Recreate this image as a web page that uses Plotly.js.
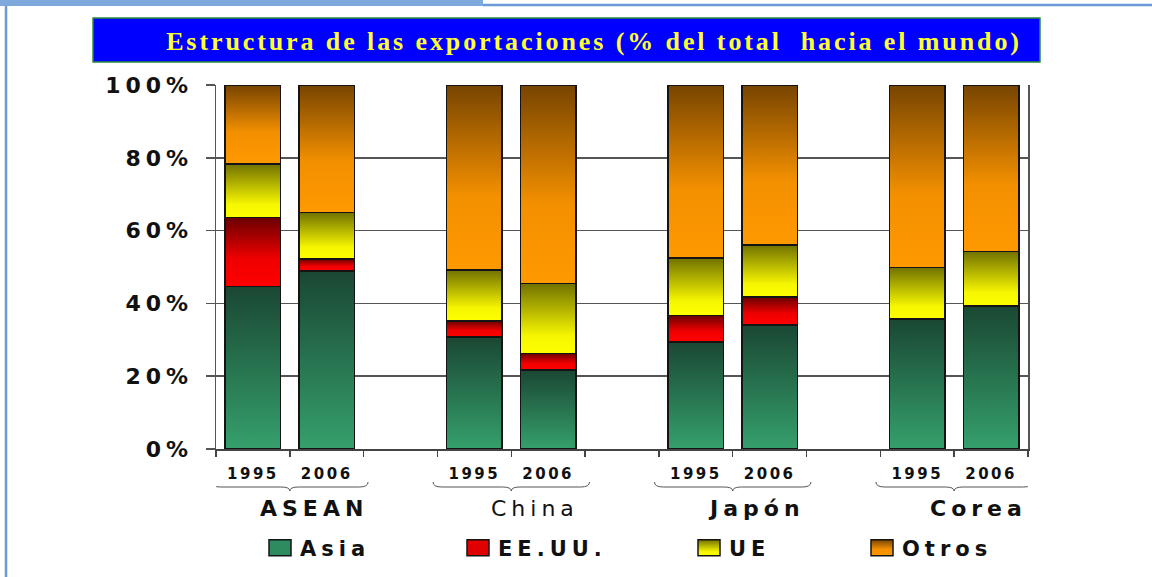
<!DOCTYPE html>
<html>
<head>
<meta charset="utf-8">
<script src="https://cdn.plot.ly/plotly-3.0.1.min.js"></script>
<style>
  html, body { margin: 0; padding: 0; background: #ffffff; }
  #chart { width: 1152px; height: 577px; }
  .ytick text { letter-spacing: 5px; }
  .xtick text { letter-spacing: 2.5px; }
  .legendtext { letter-spacing: 5px; }
  .annotation-text { letter-spacing: 5px; }
  .gtitle { letter-spacing: 2.9px; }
</style>
</head>
<body>
<div id="chart"></div>
<script>
// ---------- data ----------
var groups = ['ASEAN', 'China', 'Japón', 'Corea'];
var years = ['1995', '2006'];
var seriesNames = ['Asia', 'EE.UU.', 'UE', 'Otros'];
var asia  = [44.6, 48.9, 30.8, 21.7, 29.4, 34.1, 35.7, 39.3];
var eeuu  = [19.0,  3.3,  4.4,  4.6,  7.3,  7.6,  0.0,  0.0];
var ue    = [14.7, 12.8, 14.0, 19.2, 15.8, 14.4, 14.2, 15.0];
var otros = [21.7, 35.0, 50.8, 54.5, 47.5, 43.9, 50.1, 45.7];
var yTicks = [0, 20, 40, 60, 80, 100];
var yTickLabels = ['0%', '20%', '40%', '60%', '80%', '100%'];
var titleText = 'Estructura de las exportaciones (% del total  hacia el mundo)';

// ---------- layout helpers ----------
var W = 1152, H = 577;
var M = {l: 216, r: 124, t: 85, b: 128, autoexpand: false};
var PW = W - M.l - M.r, PH = H - M.t - M.b;
function px(x) { return (x - M.l) / PW; }
function py(y) { return (H - M.b - y) / PH; }

// bar positions: each group takes 2 slots + 1 empty slot
var xs = [], xtext = [];
groups.forEach(function (g, gi) {
  years.forEach(function (y, yi) { xs.push(gi * 3 + yi); xtext.push(y); });
});
var bounds = [];
groups.forEach(function (g, gi) { bounds.push(gi * 3 - 0.5, gi * 3 + 0.5, gi * 3 + 1.5); });

var baseColors = ['#2e8b5f', '#e00000', '#f0f000', '#f39000'];
var seriesVals = [asia, eeuu, ue, otros];
var legendIds = ['legend', 'legend2', 'legend3', 'legend4'];
var legendPixelX = [260, 458, 689, 862];

var traces = seriesVals.map(function (vals, i) {
  return {
    type: 'bar', name: seriesNames[i], x: xs, y: vals, width: 0.75,
    legend: legendIds[i],
    marker: {color: baseColors[i], line: {color: '#141414', width: 1.5}},
    hoverinfo: 'skip'
  };
});

// braces under each group
var shapes = [];
var yT = py(482), yM = py(487), yP = py(491);
groups.forEach(function (g, gi) {
  var x0 = gi * 3 - 0.56, x1 = gi * 3 + 1.56, xm = gi * 3 + 0.5, d = 0.12;
  shapes.push({
    type: 'path', xref: 'x', yref: 'paper',
    path: 'M' + x0 + ',' + yT + ' Q' + x0 + ',' + yM + ' ' + (x0 + d) + ',' + yM +
          ' L' + (xm - d) + ',' + yM + ' Q' + xm + ',' + yM + ' ' + xm + ',' + yP +
          ' Q' + xm + ',' + yM + ' ' + (xm + d) + ',' + yM +
          ' L' + (x1 - d) + ',' + yM + ' Q' + x1 + ',' + yM + ' ' + x1 + ',' + yT,
    line: {color: '#555555', width: 1}
  });
});
// title box
shapes.push({type: 'rect', xref: 'paper', yref: 'paper',
  x0: px(93), x1: px(1040), y0: py(62), y1: py(18),
  fillcolor: '#0000ff', line: {color: '#2f8a3a', width: 1.5}, layer: 'below'});
// slide decorations
shapes.push({type: 'rect', xref: 'paper', yref: 'paper',
  x0: px(0), x1: px(483), y0: py(6), y1: py(0),
  fillcolor: '#7ea9dc', line: {width: 0}, layer: 'below'});
shapes.push({type: 'line', xref: 'paper', yref: 'paper',
  x0: px(483), x1: px(1152), y0: py(5), y1: py(5),
  line: {color: '#6a9ad8', width: 2.5}});
shapes.push({type: 'line', xref: 'paper', yref: 'paper',
  x0: px(6), x1: px(6), y0: py(6), y1: py(577),
  line: {color: '#6a9ad8', width: 2.5}});

var groupWeight = {'ASEAN': 'bold', 'China': 'normal', 'Japón': 'bold', 'Corea': 'bold'};
var annotations = groups.map(function (g, gi) {
  return {
    xref: 'x', yref: 'paper', x: gi * 3 + 0.5, y: py(508), xshift: 24,
    text: g, showarrow: false, xanchor: 'center', yanchor: 'middle',
    font: {family: 'DejaVu Sans', size: 22, color: '#111111', weight: groupWeight[g]}
  };
});

var layout = {
  width: W, height: H,
  margin: M,
  paper_bgcolor: '#ffffff', plot_bgcolor: '#ffffff',
  barmode: 'stack',
  showlegend: true,
  title: {
    text: titleText, xref: 'container', x: 594 / W, xanchor: 'center',
    yref: 'container', y: 1 - 41 / H, yanchor: 'middle',
    font: {family: 'Liberation Serif', size: 26, color: '#ffff33', weight: 'bold'}
  },
  xaxis: {
    range: [-0.5, 10.5], showgrid: false, zeroline: false,
    showline: true, linecolor: '#444444', linewidth: 1.5,
    tickmode: 'array', tickvals: xs, ticktext: xtext, ticks: '',
    ticklabelstandoff: 10,
    tickfont: {family: 'DejaVu Sans', size: 15, color: '#111111', weight: 'bold'},
    minor: {tickmode: 'array', tickvals: bounds, ticks: 'outside', ticklen: 6,
            tickcolor: '#444444', tickwidth: 1.5, showgrid: false}
  },
  yaxis: {
    range: [0, 100], tickmode: 'array', tickvals: yTicks, ticktext: yTickLabels,
    showgrid: true, gridcolor: '#555555', gridwidth: 1.5,
    zeroline: false, showline: true, mirror: true, linecolor: '#555555', linewidth: 1.5,
    ticks: 'outside', ticklen: 9, tickcolor: '#555555', tickwidth: 1.5,
    ticklabelstandoff: 8,
    tickfont: {family: 'DejaVu Sans', size: 22, color: '#111111', weight: 'bold'}
  },
  shapes: shapes,
  annotations: annotations
};
legendIds.forEach(function (id, i) {
  layout[id] = {
    orientation: 'h', x: px(legendPixelX[i]), xanchor: 'left', y: py(548), yanchor: 'middle',
    font: {family: 'DejaVu Sans', size: 21, color: '#111111', weight: 'bold'},
    bgcolor: 'rgba(0,0,0,0)'
  };
});

// vertical gradients for bar fills
var gradStops = [
  [[0, '#1a4733'], [1, '#35a06c']],
  [[0, '#6a0000'], [0.6, '#f00000'], [1, '#ff0000']],
  [[0, '#717100'], [0.75, '#f6f600'], [1, '#ffff00']],
  [[0, '#774400'], [0.6, '#f39000'], [1, '#ff9900']]
];

function applyGradients(gd) {
  var NS = 'http://www.w3.org/2000/svg';
  var svg = gd.querySelector('svg.main-svg');
  var defs = svg.querySelector('defs');
  if (!defs) { defs = document.createElementNS(NS, 'defs'); svg.insertBefore(defs, svg.firstChild); }
  gradStops.forEach(function (stops, i) {
    var lg = document.createElementNS(NS, 'linearGradient');
    lg.setAttribute('id', 'barGrad' + i);
    lg.setAttribute('x1', '0'); lg.setAttribute('y1', '0');
    lg.setAttribute('x2', '0'); lg.setAttribute('y2', '1');
    stops.forEach(function (s) {
      var st = document.createElementNS(NS, 'stop');
      st.setAttribute('offset', s[0]);
      st.setAttribute('stop-color', s[1]);
      lg.appendChild(st);
    });
    defs.appendChild(lg);
  });
  var traceGroups = gd.querySelectorAll('.barlayer .trace');
  traceGroups.forEach(function (tg, i) {
    tg.querySelectorAll('path').forEach(function (p) { p.style.fill = 'url(#barGrad' + i + ')'; });
  });
  var legendTraces = gd.querySelectorAll('.infolayer .traces');
  legendTraces.forEach(function (lt, i) {
    lt.querySelectorAll('.legendpoints path').forEach(function (p) {
      p.setAttribute('d', 'M11,8H-11V-8H11Z');
      if (i >= 2) { p.style.fill = 'url(#barGrad' + i + ')'; }
    });
    lt.querySelectorAll('text').forEach(function (t) { t.style.letterSpacing = '5px'; });
    var n = lt.parentNode;
    while (n && n.classList && !n.classList.contains('infolayer')) {
      n.removeAttribute('clip-path');
      n = n.parentNode;
    }
  });
}

Plotly.newPlot('chart', traces, layout, {displayModeBar: false, staticPlot: true}).then(applyGradients);
</script>
</body>
</html>
